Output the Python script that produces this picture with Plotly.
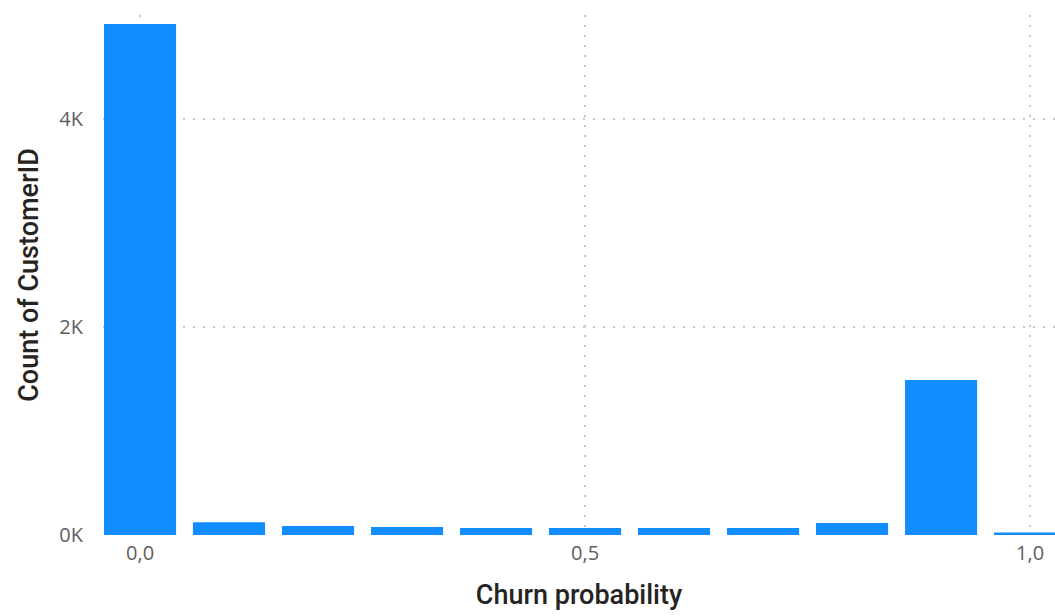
import plotly.graph_objects as go

# Data
churn_bins = [0.0, 0.1, 0.2, 0.3, 0.4, 0.5, 0.6, 0.7, 0.8, 0.9, 1.0]
customer_counts = [4913, 122, 87, 77, 67, 67, 67, 67, 115, 1490, 23]
x_tick_vals = [0.0, 0.5, 1.0]
y_tick_vals = [0, 2000, 4000]
y_tick_text = ["0K", "2K", "4K"]

BAR_COLOR = "#118DFF"
GRID_COLOR = "#C8C6C4"
TICK_COLOR = "#605E5C"
TITLE_COLOR = "#252423"

fig = go.Figure(
    go.Bar(
        x=churn_bins,
        y=customer_counts,
        width=0.081,
        marker=dict(color=BAR_COLOR, line=dict(width=0)),
        hovertemplate="%{x}: %{y}<extra></extra>",
    )
)

fig.update_layout(
    width=1055,
    height=616,
    margin=dict(l=103, r=0, t=15, b=81),
    paper_bgcolor="white",
    plot_bgcolor="white",
    separators=", ",
    showlegend=False,
    font=dict(family="Open Sans, sans-serif", color=TICK_COLOR),
)

fig.update_xaxes(
    range=[-0.0416, 1.028],
    tickvals=x_tick_vals,
    tickformat=".1f",
    tickfont=dict(size=20, color=TICK_COLOR, family="Open Sans, sans-serif"),
    ticklabelstandoff=4,
    showgrid=True,
    gridcolor=GRID_COLOR,
    griddash="2px,8px",
    gridwidth=2,
    zeroline=False,
    showline=False,
    title=dict(
        text="Churn probability",
        font=dict(size=27, color=TITLE_COLOR, family="Roboto, sans-serif", weight=500),
        standoff=20,
    ),
    automargin=False,
)

fig.update_yaxes(
    range=[0, 5000],
    tickvals=y_tick_vals,
    ticktext=y_tick_text,
    tickfont=dict(size=20, color=TICK_COLOR, family="Open Sans, sans-serif"),
    ticklabelstandoff=19,
    showgrid=True,
    gridcolor=GRID_COLOR,
    griddash="2px,8px",
    gridwidth=2,
    zeroline=False,
    showline=False,
    title=dict(
        text="Count of CustomerID",
        font=dict(size=27, color=TITLE_COLOR, family="Roboto, sans-serif", weight=500),
        standoff=12,
    ),
    automargin=False,
)

fig.write_html(
    "out.html",
    config={"displayModeBar": False},
    post_script="document.body.style.margin='0';document.body.style.overflow='hidden';",
)
